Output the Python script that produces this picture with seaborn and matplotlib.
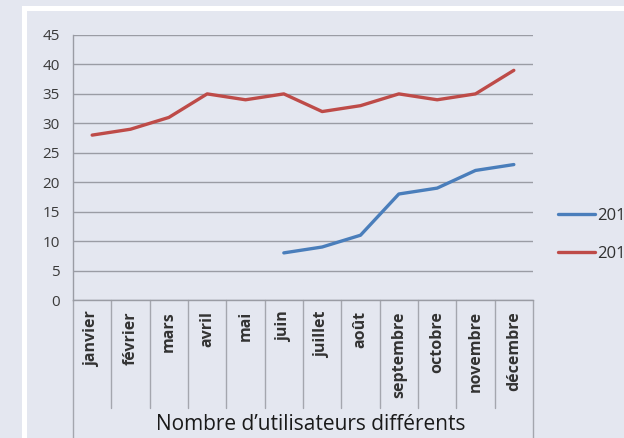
import matplotlib
matplotlib.use("Agg")
import matplotlib.pyplot as plt
import matplotlib.transforms as mtransforms
from matplotlib.lines import Line2D
from matplotlib.patches import Rectangle
import seaborn as sns
import pandas as pd

months = ["janvier", "février", "mars", "avril", "mai", "juin", "juillet",
          "août", "septembre", "octobre", "novembre", "décembre"]
series_2014 = [None, None, None, None, None, 8, 9, 11, 18, 19, 22, 23]
series_2013 = [28, 29, 31, 35, 34, 35, 32, 33, 35, 34, 35, 39]
series_names = ["2014", "2013"]
legend_labels = ["201", "201"]   # as visible (truncated) in the reference
series_colors = ["#4a7ebb", "#be4b48"]
y_ticks = [0, 5, 10, 15, 20, 25, 30, 35, 40, 45]
axis_title = "Nombre d\u2019utilisateurs différents"

rows = []
for i, m in enumerate(months):
    for name, vals in zip(series_names, [series_2014, series_2013]):
        if vals[i] is not None:
            rows.append({"idx": i, "mois": m, "serie": name, "valeur": vals[i]})
df = pd.DataFrame(rows)

sns.set_style("white")
plt.rcParams["font.family"] = ["Open Sans", "DejaVu Sans"]

W, H = 624, 438
BG = "#e4e7f0"
fig = plt.figure(figsize=(W / 100, H / 100), dpi=100, facecolor=BG)

# white frame of the screenshot
fig.add_artist(Rectangle((22 / W, 0), 5 / W, 1 - 6 / H, transform=fig.transFigure,
                         facecolor="white", edgecolor="none"))
fig.add_artist(Rectangle((22 / W, 1 - 11 / H), 1, 5 / H, transform=fig.transFigure,
                         facecolor="white", edgecolor="none"))

left, right, top, bottom = 73, 533, 35, 300
ax = fig.add_axes([left / W, 1 - bottom / H, (right - left) / W, (bottom - top) / H])
ax.set_facecolor(BG)

sns.lineplot(data=df, x="idx", y="valeur", hue="serie", hue_order=series_names,
             palette=series_colors, linewidth=2.4, ax=ax, legend=False)
ax.set_xlabel("")
ax.set_ylabel("")

ax.set_xlim(-0.5, len(months) - 0.5)
ax.set_ylim(0, 45)
ax.set_yticks(y_ticks)
ax.set_yticklabels([str(v) for v in y_ticks], fontsize=11, color="#3a3a3a")
ax.tick_params(axis="y", length=3.6, color="#9a9ca4", pad=5.8)
ax.grid(axis="y", color="#9a9ca4", linewidth=1)
ax.set_axisbelow(True)
for s in ["top", "right"]:
    ax.spines[s].set_visible(False)
for s in ["left", "bottom"]:
    ax.spines[s].set_color("#9a9ca4")
    ax.spines[s].set_linewidth(1)

ax.set_xticks(range(len(months)))
ax.set_xticklabels(months, rotation=90, fontsize=11.5, fontweight="bold",
                   color="#333333", va="top", ha="center")
ax.tick_params(axis="x", length=0, pad=8)

# category separators
trans = mtransforms.blended_transform_factory(ax.transData, ax.transAxes)
sep_bottom = (bottom - 408) / (bottom - top)
edge_bottom = (bottom - 440) / (bottom - top)
for k in range(len(months) + 1):
    x = k - 0.5
    yb = edge_bottom if k in (0, len(months)) else sep_bottom
    ax.add_line(Line2D([x, x], [0, yb], transform=trans, color="#a4a6ae",
                       linewidth=1, clip_on=False))

fig.text(311 / W, 1 - 430 / H, axis_title, fontsize=15,
         color="#1a1a1a", ha="center", va="baseline")

# legend
handles = [Line2D([], [], color=c, linewidth=2.4) for c in series_colors]
fig.legend(handles, legend_labels, loc="upper left",
           bbox_to_anchor=(558 / W, 1 - 208 / H), frameon=False, fontsize=12,
           handlelength=2.2, handletextpad=0.12, labelspacing=1.32,
           borderpad=0, borderaxespad=0, labelcolor="#303030")

fig.savefig("out.png", dpi=100, facecolor=BG)
